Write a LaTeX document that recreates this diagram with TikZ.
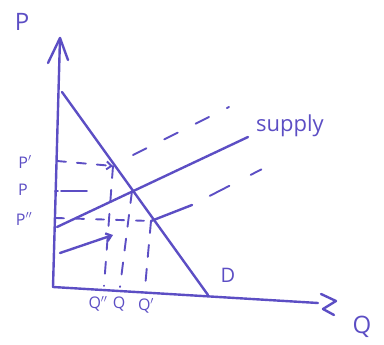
\documentclass[tikz,border=0pt]{standalone}
\usepackage{fontspec}
\setmainfont{Open Sans}
\usetikzlibrary{arrows.meta}
\definecolor{pen}{RGB}{92,78,196}
\begin{document}
\begin{tikzpicture}[x=1pt,y=-1pt,
  ink/.style={draw=pen,line width=2.4pt,line cap=round,line join=round},
  dsh/.style={ink,line width=1.9pt,dash pattern=on 11pt off 13pt},
  lbl/.style={text=pen,inner sep=0pt,font=\fontsize{16}{16}\selectfont},
  biglbl/.style={text=pen,inner sep=0pt,font=\fontsize{24}{24}\selectfont}]
\useasboundingbox (0,0) rectangle (384,345);
% key points
\coordinate (O) at (53,287);
\coordinate (ytop) at (60,38);
\coordinate (xend) at (318,303);
\coordinate (dtop) at (62,92);
\coordinate (dbot) at (208,295);
\coordinate (sL) at (57,227);
\coordinate (sR) at (248,137);
\coordinate (E) at (132,191);
\coordinate (Eu) at (113,166);
\coordinate (El) at (151,221);
% axes
\draw[ink] (O) -- (ytop);
\draw[ink] (48,63) -- (ytop) -- (68,60);
\draw[ink] (O) -- (xend);
\draw[ink] (321,294) -- (336,301) -- (323,309) -- (334,315);
% demand
\draw[ink] (dtop) -- (dbot);
% supply
\draw[ink] (sL) -- (sR);
% shifted supply (upper, dashed)
\coordinate (su1) at (133,155);
\coordinate (su2) at (229,107);
\draw[dsh,dash pattern=on 15pt off 20pt] (su1) -- (su2);
% shifted supply (lower)
\coordinate (sl1) at (192,205);
\coordinate (sl2) at (268,166);
\draw[ink] (El) -- (sl1);
\draw[dsh,dash pattern=on 0pt off 20pt on 22pt off 24pt on 12pt off 40pt] (sl1) -- (sl2);
% shift arrow
\coordinate (a1) at (60,253);
\coordinate (a2) at (113,235);
\draw[ink,-{Straight Barb[length=5pt,width=8pt]}] (a1) -- (a2);
% horizontal dashed price lines
\coordinate (pp) at (57,161);
\coordinate (p) at (55,191);
\coordinate (ppp) at (56,218);
\draw[dsh,dash pattern=on 9pt off 11pt,-{Straight Barb[length=5pt,width=8pt]}] (pp) -- (Eu);
\draw[dsh,dash pattern=on 3pt off 3pt on 26pt off 60pt] (p) -- (E);
\draw[dsh,dash pattern=on 8pt off 12pt] (ppp) -- (El);
% vertical dashed quantity lines
\coordinate (qpp) at (104,286);
\coordinate (q) at (120,287);
\coordinate (qp) at (145,288);
\draw[dsh,dash pattern=on 12pt off 12pt] (Eu) -- (qpp);
\draw[dsh,dash pattern=on 12pt off 12pt] (E) -- (q);
\draw[dsh,dash pattern=on 12pt off 12pt] (El) -- (qp);
% labels
\node[biglbl] (Plab) at (22,22) {P};
\node[biglbl] (Qlab) at (362,327) {Q};
\node[lbl] (Dlab) at (228,275) {\fontsize{20}{20}\selectfont D};
\node[lbl,anchor=west] (Slab) at (256,126) {\fontsize{22}{22}\selectfont supply};
\node[lbl] (Pp) at (25,162) {P$'$};
\node[lbl] (P) at (23,190) {P};
\node[lbl] (Ppp) at (24,219) {P$''$};
\node[lbl] (Qpp) at (98,304) {Q$''$};
\node[lbl] (Q) at (119,304) {Q};
\node[lbl] (Qp) at (146,306) {Q$'$};
\end{tikzpicture}
\end{document}
